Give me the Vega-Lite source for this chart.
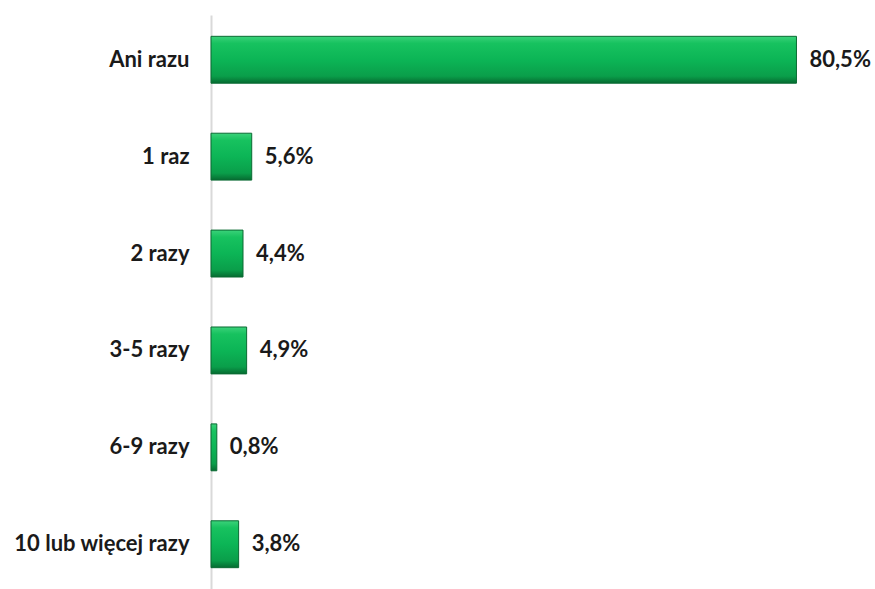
{
  "$schema": "https://vega.github.io/schema/vega-lite/v6.json",
  "width": 640,
  "height": 574,
  "autosize": {"type": "none"},
  "padding": {"left": 211, "top": 15, "right": 24, "bottom": 0},
  "background": "white",
  "config": {
    "view": {"stroke": null},
    "locale": {"number": {"decimal": ",", "thousands": " ", "grouping": [3], "currency": ["", " zł"]}}
  },
  "data": {
    "values": [
      {"kategoria": "Ani razu", "udzial": 0.805},
      {"kategoria": "1 raz", "udzial": 0.056},
      {"kategoria": "2 razy", "udzial": 0.044},
      {"kategoria": "3-5 razy", "udzial": 0.049},
      {"kategoria": "6-9 razy", "udzial": 0.008},
      {"kategoria": "10 lub więcej razy", "udzial": 0.038}
    ]
  },
  "encoding": {
    "y": {
      "field": "kategoria",
      "type": "nominal",
      "sort": null,
      "scale": {"paddingInner": 0.516, "paddingOuter": 0.22},
      "axis": {
        "title": null,
        "ticks": false,
        "domainColor": "#d9d9d9",
        "domainWidth": 2,
        "labelFont": "Lato",
        "labelFontWeight": "bold",
        "labelFontSize": 22,
        "labelColor": "#1a1a1a",
        "labelPadding": 22,
        "labelLimit": 300
      }
    },
    "x": {
      "field": "udzial",
      "type": "quantitative",
      "scale": {"domain": [0, 0.88], "nice": false},
      "axis": null
    }
  },
  "layer": [
    {
      "mark": {
        "type": "bar",
        "stroke": "#0a6b33",
        "strokeWidth": 1,
        "color": {
          "gradient": "linear",
          "x1": 0, "y1": 0, "x2": 0, "y2": 1,
          "stops": [
            {"offset": 0, "color": "#3bd27a"},
            {"offset": 0.15, "color": "#17c25f"},
            {"offset": 0.5, "color": "#0cb556"},
            {"offset": 0.85, "color": "#0a9e4a"},
            {"offset": 1, "color": "#066b31"}
          ]
        }
      }
    },
    {
      "mark": {
        "type": "text",
        "align": "left",
        "baseline": "middle",
        "dx": 13,
        "font": "Lato",
        "fontWeight": "bold",
        "fontSize": 22,
        "color": "#1a1a1a"
      },
      "encoding": {
        "text": {"field": "udzial", "type": "quantitative", "format": ".1%"}
      }
    }
  ]
}
